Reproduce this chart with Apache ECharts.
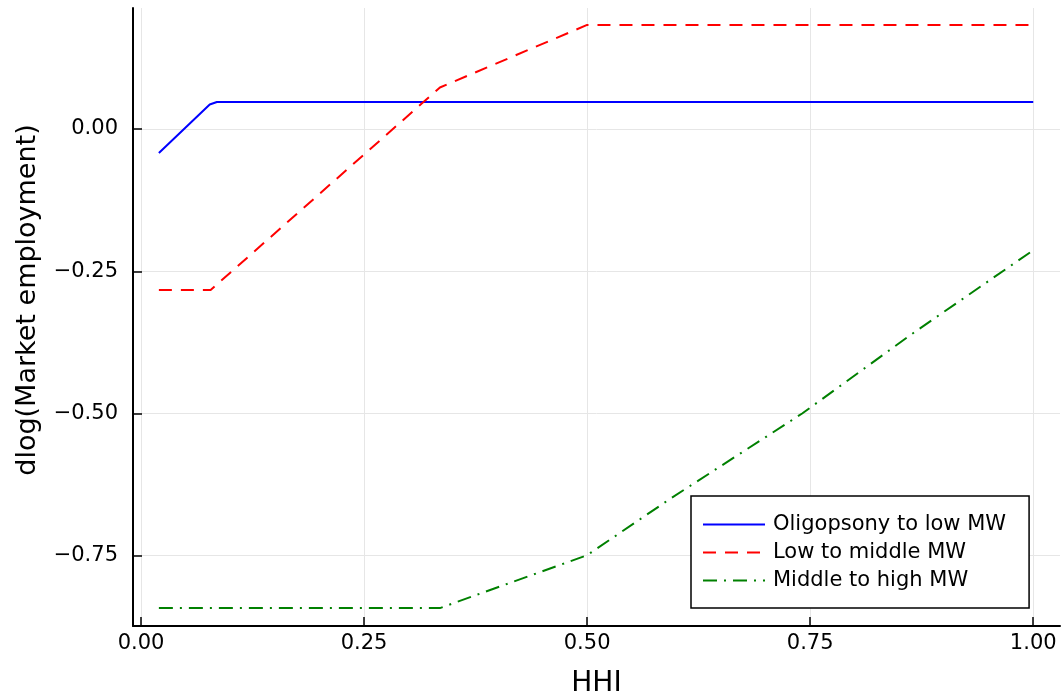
<!DOCTYPE html>
<html>
<head>
<meta charset="utf-8">
<title>dlog(Market employment) vs HHI</title>
<script src="https://cdn.jsdelivr.net/npm/echarts@6/dist/echarts.min.js"></script>
<style>
  html, body { margin: 0; padding: 0; background: #ffffff; }
  #chart { width: 1062px; height: 696px; }
</style>
</head>
<body>
<div id="chart"></div>
<script>
// Employment response to minimum-wage steps across market concentration (HHI)
const seriesNames = ['Oligopsony to low MW', 'Low to middle MW', 'Middle to high MW'];

const hhiOligLow = [0.02, 0.077, 0.085, 1.0];
const dlogOligLow = [-0.042, 0.043, 0.0475, 0.0475];

const hhiLowMid = [0.02, 0.078, 0.335, 0.5, 1.0];
const dlogLowMid = [-0.283, -0.283, 0.073, 0.183, 0.183];

const hhiMidHigh = [0.02, 0.335, 0.5, 0.593, 0.741, 0.866, 1.0];
const dlogMidHigh = [-0.842, -0.842, -0.749, -0.650, -0.500, -0.358, -0.213];

const xTicks = [0, 0.25, 0.5, 0.75, 1.0];
const yTicks = [-0.75, -0.5, -0.25, 0];

const FONT = '"DejaVu Sans", "Liberation Sans", sans-serif';

function pairs(xs, ys) {
  return xs.map((x, i) => [x, ys[i]]);
}
function tickText(v) {
  return v.toFixed(2).replace('-', '\u2212');
}

const chart = echarts.init(document.getElementById('chart'), null, { renderer: 'canvas' });

const gridLine = { show: true, lineStyle: { color: '#e6e6e6', width: 1 } };
const axisLine = { show: true, onZero: false, lineStyle: { color: '#000000', width: 2 } };
const axisTick = { show: true, inside: true, length: 9, lineStyle: { color: '#000000', width: 1.5 } };

chart.setOption({
  animation: false,
  backgroundColor: '#ffffff',
  textStyle: { fontFamily: FONT },
  grid: { left: 133, right: 2, top: 8, bottom: 70, containLabel: false, outerBoundsMode: 'none' },
  xAxis: {
    type: 'value',
    min: -0.009,
    max: 1.03,
    name: 'HHI',
    nameLocation: 'middle',
    nameGap: 44,
    nameTextStyle: { fontFamily: FONT, fontSize: 28, color: '#000000' },
    axisLine: axisLine,
    axisTick: Object.assign({ customValues: xTicks }, axisTick),
    axisLabel: {
      customValues: xTicks,
      formatter: tickText,
      margin: 7,
      fontFamily: FONT,
      fontSize: 21,
      color: '#000000'
    },
    splitLine: gridLine
  },
  yAxis: {
    type: 'value',
    min: -0.8735,
    max: 0.2127,
    name: 'dlog(Market employment)',
    nameLocation: 'middle',
    nameGap: 92,
    nameTextStyle: { fontFamily: FONT, fontSize: 27, color: '#000000', padding: [0, 0, 0, 34] },
    axisLine: axisLine,
    axisTick: Object.assign({ customValues: yTicks }, axisTick),
    axisLabel: {
      customValues: yTicks,
      formatter: tickText,
      margin: 15,
      fontFamily: FONT,
      fontSize: 21,
      color: '#000000'
    },
    splitLine: gridLine
  },
  legend: {
    data: seriesNames,
    orient: 'vertical',
    left: 691,
    top: 496,
    padding: [18, 23, 17, 11],
    itemWidth: 62,
    itemHeight: 14,
    itemGap: 7,
    itemStyle: { opacity: 0 },
    backgroundColor: '#ffffff',
    borderColor: '#000000',
    borderWidth: 1.5,
    borderRadius: 0,
    textStyle: { fontFamily: FONT, fontSize: 21, color: '#000000', padding: [0, 0, 0, 3] }
  },
  series: [
    {
      name: seriesNames[0],
      type: 'line',
      data: pairs(hhiOligLow, dlogOligLow),
      showSymbol: false,
      symbol: 'none',
      color: '#0000ff',
      lineStyle: { color: '#0000ff', width: 2 }
    },
    {
      name: seriesNames[1],
      type: 'line',
      data: pairs(hhiLowMid, dlogLowMid),
      showSymbol: false,
      symbol: 'none',
      color: '#ff0000',
      lineStyle: { color: '#ff0000', width: 2, type: [13, 9] }
    },
    {
      name: seriesNames[2],
      type: 'line',
      data: pairs(hhiMidHigh, dlogMidHigh),
      showSymbol: false,
      symbol: 'none',
      color: '#008000',
      lineStyle: { color: '#008000', width: 2, type: [14, 7, 2, 7] }
    }
  ]
});
</script>
</body>
</html>
